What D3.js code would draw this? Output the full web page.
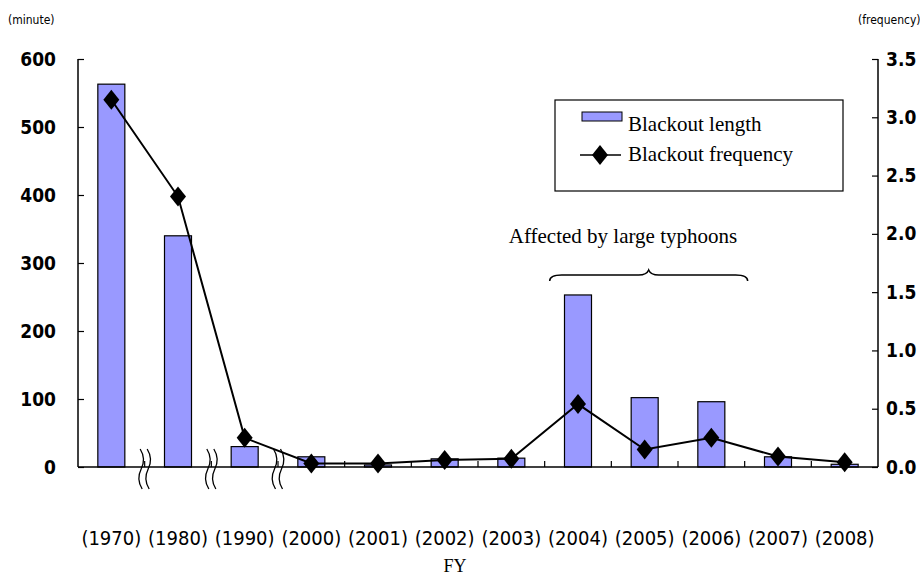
<!DOCTYPE html>
<html><head><meta charset="utf-8">
<script src="https://cdn.jsdelivr.net/npm/d3@7"></script>
<style>
body{margin:0;background:#fff;}
svg{display:block;}
.num{font-family:"DejaVu Sans Condensed","Liberation Sans Narrow",sans-serif;}
.serif{font-family:"Liberation Serif","Times New Roman",serif;}
</style></head>
<body>
<svg id="chart" width="920" height="575"></svg>
<script>
const categories = ["(1970)","(1980)","(1990)","(2000)","(2001)","(2002)","(2003)","(2004)","(2005)","(2006)","(2007)","(2008)"];
const blackoutLength = [563, 340, 30, 15, 3, 12, 13, 253, 102, 96, 15, 4];
const blackoutFrequency = [3.15, 2.32, 0.25, 0.03, 0.03, 0.06, 0.07, 0.54, 0.15, 0.25, 0.09, 0.04];
const leftTicks = [0, 100, 200, 300, 400, 500, 600];
const rightTicks = [0.0, 0.5, 1.0, 1.5, 2.0, 2.5, 3.0, 3.5];
const breakAfter = ["(1970)","(1980)","(1990)"];
const legendLabels = ["Blackout length", "Blackout frequency"];
const annotation = "Affected by large typhoons";
const bracedCategories = ["(2004)","(2006)"];

const svg = d3.select("#chart");
const L = 78, R = 878, T = 59, B = 467;

const x = d3.scaleBand().domain(categories).range([L, R]).paddingInner(0).paddingOuter(0);
const yL = d3.scaleLinear().domain([0, 600]).range([B, T]);
const yR = d3.scaleLinear().domain([0, 3.5]).range([B, T]);

const barW = 27;

// bars
svg.append("g").selectAll("rect").data(categories).join("rect")
  .attr("x", d => x(d) + x.bandwidth()/2 - barW/2)
  .attr("y", (d,i) => yL(blackoutLength[i]))
  .attr("width", barW)
  .attr("height", (d,i) => B - yL(blackoutLength[i]))
  .attr("fill", "#9999ff").attr("stroke", "#000").attr("stroke-width", 1.2);

// axes
const axL = d3.axisLeft(yL).tickValues(leftTicks).tickSize(-6).tickPadding(22).tickFormat(d3.format("d"));
const gL = svg.append("g").attr("transform", `translate(${L},0)`).call(axL);
const axR = d3.axisRight(yR).tickValues(rightTicks).tickSize(-6).tickPadding(8).tickFormat(d3.format(".1f"));
const gR = svg.append("g").attr("transform", `translate(${R},0)`).call(axR);
[gL, gR].forEach(g => {
  g.select(".domain").attr("stroke", "#000").attr("stroke-width", 1.5).attr("d", `M0,${T}V${B}`);
  g.selectAll(".tick line").attr("stroke", "#000").attr("stroke-width", 1.2);
  g.selectAll(".tick text").attr("class", "num").attr("font-size", 19).attr("font-weight", "bold").attr("fill", "#000");
});

// x axis baseline with category boundary ticks
const axX = d3.axisBottom(x).tickSize(0).tickFormat("");
const gX = svg.append("g").attr("transform", `translate(0,${B})`).call(axX);
gX.select(".domain").attr("stroke", "#000").attr("stroke-width", 1.5).attr("d", `M${L},0H${R}`);
gX.selectAll(".tick").remove();
const bounds = categories.slice(1).map(c => x(c));
gX.selectAll("line.b").data(bounds).join("line").attr("class","b")
  .attr("x1", d => d).attr("x2", d => d).attr("y1", 0).attr("y2", -6)
  .attr("stroke", "#000").attr("stroke-width", 1.2);

// x labels
svg.append("g").selectAll("text").data(categories).join("text")
  .attr("class", "num").attr("x", d => x(d) + x.bandwidth()/2).attr("y", 545)
  .attr("text-anchor", "middle").attr("font-size", 20).attr("font-weight", 500).attr("fill", "#000")
  .text(d => d);

// break marks
breakAfter.forEach(c => {
  const bx = x(c) + x.bandwidth();
  const y0 = 449, y1 = 489;
  [-3.5, 3.5].forEach(off => {
    const cx = bx + off;
    const p = d3.path();
    p.moveTo(cx - 1, y0);
    p.bezierCurveTo(cx + 4, y0 + 8, cx + 3, y0 + 14, cx, y0 + 20);
    p.bezierCurveTo(cx - 3, y0 + 26, cx - 4, y0 + 32, cx + 1, y1);
    svg.append("path").attr("d", p.toString()).attr("fill", "none").attr("stroke", "#000").attr("stroke-width", 1.3);
  });
});

// line + diamonds
const line = d3.line().x((d,i) => x(categories[i]) + x.bandwidth()/2).y(d => yR(d));
svg.append("path").datum(blackoutFrequency).attr("d", line)
  .attr("fill", "none").attr("stroke", "#000").attr("stroke-width", 2);
const diamond = (cx, cy) => `M${cx},${cy-10}L${cx+8},${cy}L${cx},${cy+10}L${cx-8},${cy}Z`;
svg.append("g").selectAll("path").data(blackoutFrequency).join("path")
  .attr("d", (d,i) => diamond(x(categories[i]) + x.bandwidth()/2, yR(d)))
  .attr("fill", "#000");

// axis unit labels
svg.append("text").attr("class","num").attr("x", 8).attr("y", 24).attr("font-size", 12).attr("fill","#000").text("(minute)");
svg.append("text").attr("class","num").attr("x", 858).attr("y", 24).attr("font-size", 12).attr("fill","#000").text("(frequency)");

// FY
svg.append("text").attr("class","serif").attr("x", 455).attr("y", 572).attr("text-anchor","middle").attr("font-size", 18).attr("fill","#000").text("FY");

// legend
const lg = svg.append("g");
lg.append("rect").attr("x", 555).attr("y", 100).attr("width", 288).attr("height", 91).attr("fill","#fff").attr("stroke","#000").attr("stroke-width",1.2);
lg.append("rect").attr("x", 582).attr("y", 112).attr("width", 40).attr("height", 9).attr("fill","#9999ff").attr("stroke","#000").attr("stroke-width",1);
lg.append("text").attr("class","serif").attr("x", 628).attr("y", 131).attr("font-size", 21).attr("fill","#000").text(legendLabels[0]);
lg.append("line").attr("x1", 580).attr("x2", 621).attr("y1", 155).attr("y2", 155).attr("stroke","#000").attr("stroke-width",1.5);
lg.append("path").attr("d", diamond(600, 155)).attr("fill","#000");
lg.append("text").attr("class","serif").attr("x", 628).attr("y", 161).attr("font-size", 21).attr("fill","#000").text(legendLabels[1]);

// annotation with brace
svg.append("text").attr("class","serif").attr("x", 623).attr("y", 243).attr("text-anchor","middle").attr("font-size", 21).attr("fill","#000").text(annotation);
const bx0 = x(bracedCategories[0]) + 5, bx1 = x(bracedCategories[1]) + x.bandwidth() + 3;
const bm = (bx0 + bx1) / 2, byT = 270, byB = 281;
const bp = d3.path();
bp.moveTo(bx0, byB);
bp.quadraticCurveTo(bx0, byT + 5, bx0 + 12, byT + 5);
bp.lineTo(bm - 10, byT + 5);
bp.quadraticCurveTo(bm - 2, byT + 5, bm, byT);
bp.quadraticCurveTo(bm + 2, byT + 5, bm + 10, byT + 5);
bp.lineTo(bx1 - 12, byT + 5);
bp.quadraticCurveTo(bx1, byT + 5, bx1, byB);
svg.append("path").attr("d", bp.toString()).attr("fill","none").attr("stroke","#000").attr("stroke-width",1.5);
</script>
</body></html>
